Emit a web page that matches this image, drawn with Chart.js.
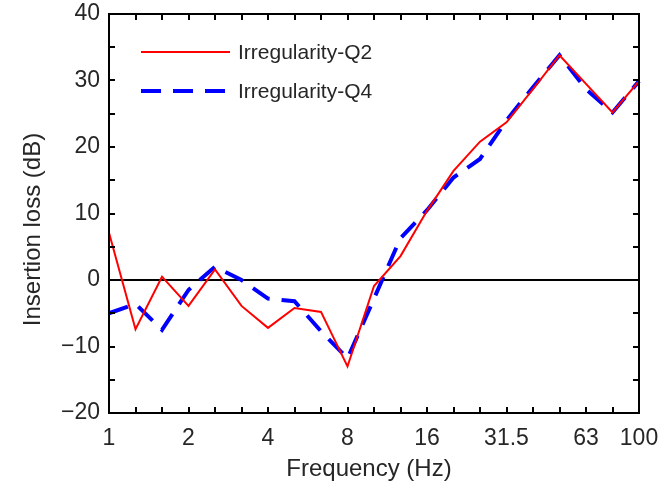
<!DOCTYPE html>
<html><head><meta charset="utf-8">
<script src="https://cdn.jsdelivr.net/npm/chart.js@4/dist/chart.umd.min.js"></script>
<style>html,body{margin:0;padding:0;background:#fff;}#wrap{width:668px;height:488px;position:relative;}</style>
</head><body><div id="wrap"><canvas id="c" width="668" height="488"></canvas></div>
<script>
// One-third-octave band centre frequencies (Hz)
const bands = ['1','1.25','1.6','2','2.5','3.15','4','5','6.3','8','10','12.5','16','20','25','31.5','40','50','63','80','100'];
// Labels shown on the x axis
const shownLabels = ['1','2','4','8','16','31.5','63','100'];
// Insertion loss (dB)
const q2 = [7.1,-7.4,0.5,-3.9,1.6,-3.9,-7.2,-4.2,-4.8,-13.0,-0.9,3.6,10.4,16.4,20.8,23.7,28.7,33.8,29.5,25.2,29.9];
const q4 = [-5.0,-3.6,-7.5,-1.5,2.0,0.0,-2.8,-3.2,-7.7,-11.8,-2.8,6.3,10.5,15.4,18.2,24.0,29.0,33.8,28.7,25.2,29.9];
const seriesNames = ['Irregularity-Q2','Irregularity-Q4'];
const xTitle = 'Frequency (Hz)';
const yTitle = 'Insertion loss (dB)';
const yMin = -20, yMax = 40, yStep = 10, yMinorStep = 5;

const FONT = 'Liberation Sans, Arial, sans-serif';
const TXT = '#262626';

const framePlugin = {
  id: 'frame',
  afterDatasetsDraw(chart) {
    const {ctx, chartArea: a, scales: {x, y}} = chart;
    ctx.save();
    ctx.strokeStyle = '#000';
    ctx.lineWidth = 2;
    ctx.beginPath();
    const tl = 6;
    for (let v = yMin; v <= yMax; v += yMinorStep) {
      const py = Math.round(y.getPixelForValue(v));
      ctx.moveTo(a.left, py); ctx.lineTo(a.left + tl, py);
      ctx.moveTo(a.right, py); ctx.lineTo(a.right - tl, py);
    }
    for (let i = 0; i < bands.length; i++) {
      const px = Math.round(x.getPixelForValue(i));
      ctx.moveTo(px, a.bottom); ctx.lineTo(px, a.bottom - tl);
      ctx.moveTo(px, a.top); ctx.lineTo(px, a.top + tl);
    }
    ctx.stroke();
    ctx.strokeRect(a.left, a.top, a.right - a.left, a.bottom - a.top);
    // legend
    const lx = a.left + 32, lw = 89;
    const rows = [a.top + 38, a.top + 77];
    chart.data.datasets.forEach((ds, k) => {
      ctx.beginPath();
      ctx.strokeStyle = ds.borderColor;
      ctx.lineWidth = ds.borderWidth;
      ctx.setLineDash(ds.borderDash || []);
      ctx.moveTo(lx, rows[k]); ctx.lineTo(lx + lw, rows[k]);
      ctx.stroke();
      ctx.setLineDash([]);
      ctx.fillStyle = TXT;
      ctx.font = '21px ' + FONT;
      ctx.textBaseline = 'middle';
      ctx.textAlign = 'left';
      ctx.fillText(ds.label, lx + lw + 8, rows[k] + 1);
    });
    // axis titles
    ctx.fillStyle = TXT;
    ctx.font = '24px ' + FONT;
    ctx.textAlign = 'center';
    ctx.textBaseline = 'middle';
    ctx.fillText(xTitle, (a.left + a.right) / 2 - 5, a.bottom + 56);
    ctx.translate(33, (a.top + a.bottom) / 2 + 16);
    ctx.rotate(-Math.PI / 2);
    ctx.fillText(yTitle, 0, 0);
    ctx.restore();
  }
};

new Chart(document.getElementById('c'), {
  type: 'line',
  data: {
    labels: bands,
    datasets: [
      {label: seriesNames[0], data: q2, borderColor: '#ff0000', borderWidth: 2, pointRadius: 0, fill: false, tension: 0},
      {label: seriesNames[1], data: q4, borderColor: '#0000ff', borderWidth: 4, borderDash: [20, 12], pointRadius: 0, fill: false, tension: 0}
    ]
  },
  options: {
    responsive: false,
    animation: false,
    events: [],
    layout: {padding: {left: 0, top: 14, right: 29, bottom: 0}},
    plugins: {legend: {display: false}, tooltip: {enabled: false}},
    scales: {
      x: {
        type: 'category',
        offset: false,
        grid: {display: false, drawTicks: false},
        border: {display: false},
        ticks: {
          autoSkip: false, maxRotation: 0, padding: 12, color: TXT,
          font: {family: FONT, size: 23},
          callback: (v, i) => shownLabels.includes(bands[i]) ? bands[i] : ''
        },
        afterFit: s => { s.height = 488 - 413; s.paddingLeft = 0; s.paddingRight = 0; }
      },
      y: {
        min: yMin, max: yMax,
        grid: {drawTicks: false, color: c => c.tick && c.tick.value === 0 ? '#000' : 'rgba(0,0,0,0)', lineWidth: 2},
        border: {display: false},
        ticks: {stepSize: yStep, padding: 9, color: TXT, font: {family: FONT, size: 23},
          callback: v => (v < 0 ? '\u2212' + Math.abs(v) : String(v))},
        afterFit: s => { s.width = 109; s.paddingTop = 0; s.paddingBottom = 0; }
      }
    }
  },
  plugins: [framePlugin]
});
</script></body></html>
